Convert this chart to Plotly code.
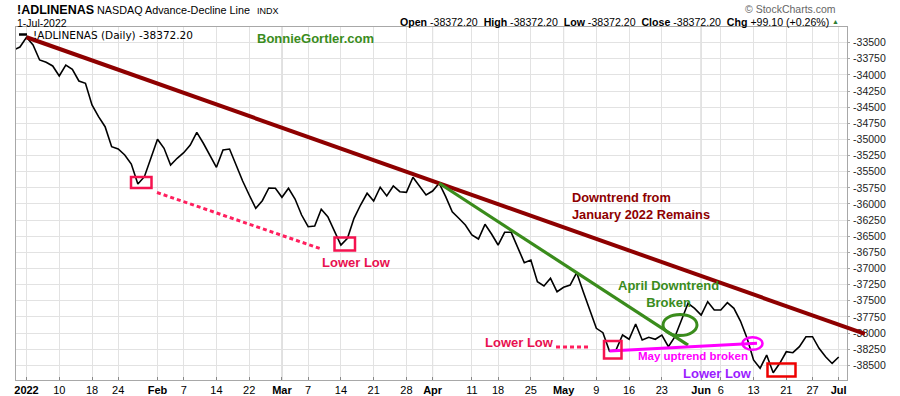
import numpy as np
import pandas as pd
import plotly.graph_objects as go

# ---------------- data ----------------
holidays = ["2022-01-17", "2022-02-21", "2022-04-15", "2022-05-30", "2022-06-20"]
dates = pd.bdate_range("2021-12-30", "2022-07-01", freq="C", holidays=holidays)

values = [
    -33613, -33567,                              # Dec 30, Dec 31
    -33416, -33536, -33768, -33804, -33861,      # Jan 3-7
    -34016, -33846, -33912, -34094, -34129,      # Jan 10-14
    -34466, -34647, -34802, -35112,              # Jan 18-21
    -35148, -35241, -35381, -35691, -35577,      # Jan 24-28
    -35287,                                      # Jan 31
    -34997, -35137, -35396, -35292,              # Feb 1-4
    -35205, -35086, -34889, -35059, -35256,      # Feb 7-11
    -35431, -35163, -35148, -35396, -35644,      # Feb 14-18
    -35861, -36067, -35949, -35752,              # Feb 22-25
    -35757,                                      # Feb 28
    -35896, -35757, -35923, -36171,              # Mar 1-4
    -36352, -36341, -36082, -36197, -36430,      # Mar 7-11
    -36636, -36532, -36222, -36016, -35834,      # Mar 14-18
    -35954, -35741, -35876, -35721, -35810,      # Mar 21-25
    -35819, -35586, -35721, -35861,              # Mar 28-31
    -35799,                                      # Apr 1
    -35679, -35887, -36120, -36222, -36326,      # Apr 4-8
    -36481, -36543, -36315, -36465,              # Apr 11-14
    -36636, -36439, -36439, -36671, -36910,      # Apr 18-22
    -36868, -37205, -37271, -37152, -37360,      # Apr 25-29
    -37291, -37256, -37065, -37360, -37643,      # May 2-6
    -37927, -37995, -38279, -38263, -38031,      # May 9-13
    -38097, -37860, -38108, -38066, -38097,      # May 16-20
    -38031, -38212, -38057, -37798, -37539,      # May 23-27
    -37617,                                      # May 31
    -37721, -37514, -37643,                      # Jun 1-3
    -37643, -37530, -37617, -37814, -38077,      # Jun 6-10
    -38418, -38547, -38341, -38615, -38469,      # Jun 13-17
    -38290, -38305, -38212, -38057,              # Jun 21-24
    -38057, -38237, -38367, -38471.3,            # Jun 27-30
    -38372.2,                                    # Jul 1
]
assert len(values) == len(dates)

tick_dates = ["2022-01-03", "2022-01-10", "2022-01-18", "2022-01-24", "2022-02-01", "2022-02-07",
              "2022-02-14", "2022-02-22", "2022-03-01", "2022-03-07", "2022-03-14", "2022-03-21",
              "2022-03-28", "2022-04-01", "2022-04-11", "2022-04-18", "2022-04-25", "2022-05-02",
              "2022-05-09", "2022-05-16", "2022-05-23", "2022-06-01", "2022-06-06", "2022-06-13",
              "2022-06-21", "2022-06-27", "2022-07-01"]
tick_labels = ["<b>2022</b>", "10", "18", "24", "<b>Feb</b>", "7", "14", "22", "<b>Mar</b>", "7", "14",
               "21", "28", "<b>Apr</b>", "11", "18", "25", "<b>May</b>", "9", "16", "23", "<b>Jun</b>",
               "6", "13", "21", "27", "<b>Jul</b>"]
month_dates = ["2022-01-03", "2022-02-01", "2022-03-01", "2022-04-01", "2022-05-02", "2022-06-01"]

y_ticks = list(range(-33500, -38501, -250))

# ---------------- geometry ----------------
W, H = 900, 396
L, R, T, B = 16, 847, 27, 380
pos0 = list(dates).index(pd.Timestamp("2022-01-03"))
x = np.arange(len(dates)) - pos0
def idx(d):
    return list(dates).index(pd.Timestamp(d)) - pos0

PXD = 6.55
XMIN = (L - 26.5) / PXD
XMAX = (R - 26.5) / PXD
YMIN, YMAX = -38728, -33257

def px(xp):  # pixel -> paper x
    return (xp - L) / (R - L)
def py(yp):  # pixel -> paper y
    return (B - yp) / (B - T)
def dx(i):
    return (i - XMIN) / (XMAX - XMIN)
def dy(v):
    return (v - YMIN) / (YMAX - YMIN)

fig = go.Figure()
fig.add_trace(go.Scatter(x=x, y=values, mode="lines",
                         line=dict(color="black", width=1.6), hoverinfo="skip", showlegend=False))

shapes = []
# darker month grid lines
for d in month_dates:
    shapes.append(dict(type="line", xref="x", yref="paper", x0=idx(d), x1=idx(d), y0=0, y1=1,
                       line=dict(color="#b8b8b8", width=1), layer="below"))

def trend(i0, i1, iend, color, width):
    v0, v1 = values[i0 + pos0], values[i1 + pos0]
    s = (v1 - v0) / (i1 - i0)
    vend = v0 + s * (iend - i0)
    return dict(type="line", xref="paper", yref="paper", x0=dx(i0), y0=dy(v0), x1=dx(iend), y1=dy(vend),
                line=dict(color=color, width=width))

# Maroon long-term downtrend
shapes.append(trend(idx("2022-01-03"), idx("2022-04-04"), 128.0, "#8e0000", 4))
# Green April downtrend
shapes.append(trend(idx("2022-04-04"), idx("2022-05-04"), 101.0, "#3a8c1c", 3.2))
# Magenta May uptrend
i_may = idx("2022-05-11")
shapes.append(dict(type="line", xref="paper", yref="paper",
                   x0=dx(i_may), y0=dy(values[i_may + pos0]), x1=px(757), y1=py(343.3),
                   line=dict(color="#ff00ff", width=3)))

def rect(x0, y0, x1, y1, color, w=2.5):
    return dict(type="rect", xref="paper", yref="paper", x0=px(x0), x1=px(x1), y0=py(y0), y1=py(y1),
                line=dict(color=color, width=w))
def ell(cx, cy, rx, ry, color, w):
    return dict(type="circle", xref="paper", yref="paper", x0=px(cx - rx), x1=px(cx + rx),
                y0=py(cy + ry), y1=py(cy - ry), line=dict(color=color, width=w))

PINK = "#f5124f"
shapes += [
    rect(131, 177, 151.5, 188, PINK),
    rect(334.5, 237.5, 355, 250.5, PINK),
    rect(604, 341, 621.5, 358.5, PINK),
    rect(767.5, 363.5, 795.5, 376.5, "#ee0000"),
    ell(680, 325, 17, 10.5, "#3a8c1c", 3),
    ell(752.5, 343.5, 10, 6.3, "#ff00ff", 2.5),
    dict(type="line", xref="paper", yref="paper", x0=px(157), y0=py(192.5), x1=px(320), y1=py(248.5),
         line=dict(color="#ff1f5e", width=3, dash="4px,3px")),
    dict(type="line", xref="paper", yref="paper", x0=px(556), y0=py(347), x1=px(590), y1=py(347),
         line=dict(color="#ff1f5e", width=3, dash="4px,3px")),
    # legend swatch
    dict(type="line", xref="paper", yref="paper", x0=px(19), y0=py(34.5), x1=px(27), y1=py(34.5),
         line=dict(color="black", width=2.5)),
]

AR = "Liberation Sans, Arial, sans-serif"
def ann(text, xp, yp, size, color="black", xanchor="center", bold=False, family=AR):
    if bold:
        text = "<b>" + text + "</b>"
    return dict(text=text, x=px(xp), y=py(yp), xref="paper", yref="paper", showarrow=False,
                xanchor=xanchor, yanchor="middle", font=dict(size=size, color=color, family=family),
                align="left" if xanchor == "left" else "center")

annotations = [
    ann("!ADLINENAS", 15, 9.5, 12.5, xanchor="left", bold=True),
    ann("NASDAQ Advance-Decline Line", 95, 10, 10.8, xanchor="left"),
    ann("INDX", 255, 10.5, 9, xanchor="left"),
    ann("1-Jul-2022", 15, 23, 10.5, xanchor="left"),
    ann("<b>Open</b> -38372.20  <b>High</b> -38372.20  <b>Low</b> -38372.20  <b>Close</b> -38372.20  "
        "<b>Chg</b> +99.10 (+0.26%)", 831, 21.5, 10.6, xanchor="right"),
    ann("▲", 835.5, 21.5, 7, color="#2e7d32"),
    ann("© StockCharts.com", 838, 9, 10.5, color="#666666", xanchor="right"),
    ann("!ADLINENAS (Daily) -38372.20", 31, 35, 10.5, xanchor="left", family="DejaVu Sans, Verdana, sans-serif"),
    ann("BonnieGortler.com", 315.5, 38.5, 13, color="#3a8c1c", bold=True),
    ann("Lower Low", 356.5, 262.5, 13, color="#e8104f", bold=True),
    ann("Lower Low", 519.5, 342.5, 13, color="#e8104f", bold=True),
    ann("Lower Low", 717.5, 373, 13, color="#9b1cff", bold=True),
    ann("May uptrend broken", 692.5, 356, 11.5, color="#ff00ff", bold=True),
    ann("April Downtrend<br>Broken", 668, 294, 13, color="#3a8c1c", bold=True),
    ann("Downtrend from<br>January 2022 Remains", 570, 206, 12.8, color="#8e0000", xanchor="left", bold=True),
]

fig.update_layout(
    width=W, height=H,
    margin=dict(l=L, r=W - R, t=T, b=H - B, pad=0, autoexpand=False),
    paper_bgcolor="white", plot_bgcolor="white",
    shapes=shapes, annotations=annotations,
    xaxis=dict(range=[XMIN, XMAX], tickmode="array", tickvals=[idx(d) for d in tick_dates],
               ticktext=tick_labels, showgrid=True, gridcolor="#e2e2e2", gridwidth=1,
               zeroline=False, showline=True, linecolor="#a8a8a8", mirror=True, automargin=False,
               ticks="inside", ticklen=3, tickcolor="#888888",
               tickfont=dict(size=11, family=AR, color="black"), ticklabelstandoff=0),
    yaxis=dict(range=[YMIN, YMAX], side="right", tickmode="array", tickvals=y_ticks,
               ticktext=[str(v) for v in y_ticks], showgrid=True, gridcolor="#e2e2e2", gridwidth=1,
               zeroline=False, showline=True, linecolor="#a8a8a8", mirror=True, automargin=False,
               ticks="outside", ticklen=2, tickcolor="#a8a8a8",
               tickfont=dict(size=10.5, family=AR, color="#222222"), ticklabelstandoff=1),
)

fig.write_html("out.html", config={"displayModeBar": False},
               post_script="document.body.style.margin='0';document.body.style.padding='0';")
